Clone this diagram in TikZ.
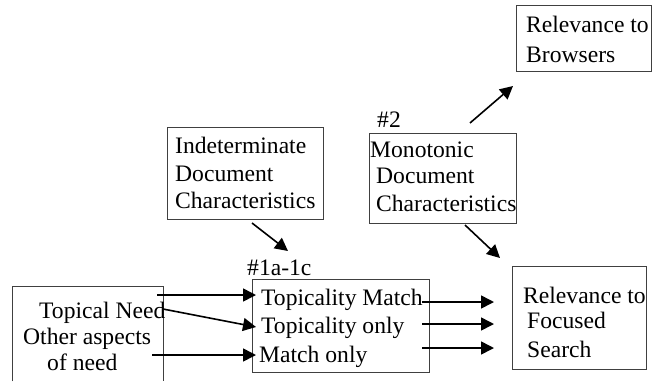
\documentclass[tikz,border=0pt]{standalone}
\usepackage{fontspec}
\setmainfont{Liberation Serif}
\usetikzlibrary{arrows.meta}
\begin{document}
\begin{tikzpicture}[x=1pt,y=-1pt,
  box/.style={draw=black!75, line width=0.9pt, inner sep=0pt, anchor=north west},
  openbox/.style={inner sep=0pt, anchor=north west},
  txt/.style={anchor=base west, inner sep=0pt, font=\fontsize{23.6}{28}\selectfont},
  arr/.style={line width=1.6pt, -{Triangle[length=13pt,width=13pt]}}]
\useasboundingbox (0,0) rectangle (652,381);
% boxes
\node[openbox, minimum width=151pt, minimum height=95pt] (need) at (12,286) {};
\draw[draw=black!75, line width=0.9pt] (need.south west) -- (need.north west) -- (need.north east) -- (need.south east);
\node[box, minimum width=177pt, minimum height=93pt] (mid) at (252,279) {};
\node[box, minimum width=134pt, minimum height=103pt] (focus) at (512,266) {};
\node[box, minimum width=156pt, minimum height=92pt] (indet) at (167,127) {};
\node[box, minimum width=147pt, minimum height=90pt] (mono) at (369,133) {};
\node[box, minimum width=135pt, minimum height=66pt] (brow) at (516,5) {};
% texts
\node[txt] (l1a) at (247,275) {\#1a-1c};
\node[txt] (l2) at (377,127) {\#2};
\node[txt] (t1) at (39,318) {Topical Need};
\node[txt] (t2) at (23,344) {Other aspects};
\node[txt] (t3) at (47,370) {of need};
\node[txt] (m1) at (261,305) {Topicality Match};
\node[txt] (m2) at (261,333) {Topicality only};
\node[txt] (m3) at (259,362) {Match only};
\node[txt] (f1) at (523,303) {Relevance to};
\node[txt] (f2) at (527,328) {Focused};
\node[txt] (f3) at (527,357) {Search};
\node[txt] (i1) at (175,153) {Indeterminate};
\node[txt] (i2) at (175,181) {Document};
\node[txt] (i3) at (175,208) {Characteristics};
\node[txt] (o1) at (370,157) {Monotonic};
\node[txt] (o2) at (376,183) {Document};
\node[txt] (o3) at (376,211) {Characteristics};
\node[txt] (r1) at (526,32) {Relevance to};
\node[txt] (r2) at (526,62) {Browsers};
% connector end points
\coordinate (a1s) at (157,295); \coordinate (a1e) at (256,295);
\coordinate (a2s) at (163,309); \coordinate (a2e) at (256,327);
\coordinate (a3s) at (152,355); \coordinate (a3e) at (256,355);
\coordinate (b1s) at (422,302); \coordinate (b1e) at (494,302);
\coordinate (b2s) at (422,324); \coordinate (b2e) at (494,324);
\coordinate (b3s) at (422,348); \coordinate (b3e) at (494,348);
\coordinate (c1s) at (252,223); \coordinate (c1e) at (288,251);
\coordinate (c2s) at (465,225); \coordinate (c2e) at (500,258);
\coordinate (c3s) at (470,123); \coordinate (c3e) at (513,86);
% connectors
\draw[arr] (a1s) -- (a1e);
\draw[arr] (a2s) -- (a2e);
\draw[arr] (a3s) -- (a3e);
\draw[arr] (b1s) -- (b1e);
\draw[arr] (b2s) -- (b2e);
\draw[arr] (b3s) -- (b3e);
\draw[arr] (c1s) -- (c1e);
\draw[arr] (c2s) -- (c2e);
\draw[arr] (c3s) -- (c3e);
\end{tikzpicture}
\end{document}
